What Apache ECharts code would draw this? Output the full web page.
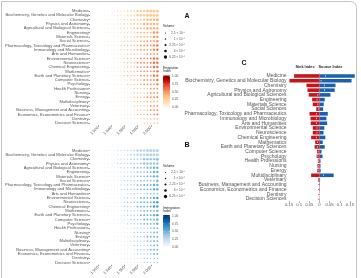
<!DOCTYPE html>
<html><head><meta charset="utf-8">
<script src="https://cdn.jsdelivr.net/npm/echarts@6/dist/echarts.min.js"></script>
<style>html,body{margin:0;padding:0;background:#fff}#c{width:361px;height:278px}</style>
</head><body><div id="c"></div>
<script>
// ---------- DATA ----------
const categories = [
  'Medicine','Biochemistry, Genetics and Molecular Biology','Chemistry','Physics and Astronomy',
  'Agricultural and Biological Sciences','Engineering','Materials Science','Social Sciences',
  'Pharmacology, Toxicology and Pharmaceutics','Immunology and Microbiology','Arts and Humanities',
  'Environmental Science','Neuroscience','Chemical Engineering','Mathematics',
  'Earth and Planetary Sciences','Computer Science','Psychology','Health Professions','Nursing',
  'Energy','Multidisciplinary','Veterinary','Business, Management and Accounting',
  'Economics, Econometrics and Finance','Dentistry','Decision Sciences'
];
const periods = [1910,1915,1920,1925,1930,1935,1940,1945,1950,1955,1960,1965,1970,1975,1980,1985,1990,1995,2000,2005,2010];
const yearTicks = [1920,1940,1960,1980,2000];

// volume level per category and period (0 = none, 1..5 = legend sizes)
const volumeLevels = [
  '000 111 112 223 334 445 555','000 011 112 223 334 445 555','001 111 112 222 333 344 445',
  '001 111 112 222 333 344 444','000 111 111 222 233 334 444','000 011 111 222 223 333 344',
  '000 001 111 122 223 333 344','000 111 111 122 222 333 334','000 111 111 222 223 333 344',
  '000 011 111 222 223 333 344','011 111 111 112 222 223 333','000 001 111 122 222 333 344',
  '000 001 111 122 223 333 344','000 011 111 122 223 333 344','011 111 111 122 222 333 334',
  '000 111 111 122 222 333 344','000 000 011 111 222 233 334','000 011 111 112 222 333 334',
  '000 000 111 111 122 222 333','000 000 011 111 122 222 333','000 000 111 111 122 223 333',
  '011 111 111 111 222 223 333','000 000 111 111 122 222 333','000 000 111 111 112 222 333',
  '000 000 011 111 112 222 233','000 000 001 111 111 122 222','000 000 000 111 111 122 222'
];
// emigration index per cell, tenths (0..9)
const emigrationTenths = [
  '000 111 222 222 223 333 333','000 111 222 222 223 333 333','001 112 222 233 333 334 444',
  '001 112 222 233 333 344 444','000 112 222 333 334 444 444','000 011 222 333 334 444 455',
  '000 001 122 233 344 444 455','000 112 223 333 444 445 555','000 112 223 334 444 555 556',
  '000 011 223 334 444 555 556','011 122 233 334 444 455 555','000 001 123 334 445 555 666',
  '000 001 122 334 445 555 666','000 011 223 334 445 556 666','011 122 233 344 445 555 566',
  '000 112 223 334 444 555 566','000 000 012 233 444 455 556','000 011 223 334 444 455 555',
  '000 000 112 233 344 444 555','000 000 012 233 344 445 555','000 000 112 233 444 455 556',
  '011 122 223 333 344 444 444','000 000 112 233 344 444 555','000 000 112 233 344 445 555',
  '000 000 012 233 344 445 556','000 000 001 223 334 444 555','000 000 000 122 333 444 455'
];
// immigration index per cell, tenths (0..9)
const immigrationTenths = [
  '000 111 222 222 233 333 333','000 111 222 222 333 333 333','001 112 222 333 333 344 444',
  '001 112 223 333 333 444 444','000 112 223 333 344 444 455','000 011 223 333 444 445 555',
  '000 001 122 333 444 445 555','000 111 222 333 344 444 445','000 112 223 334 444 455 555',
  '000 011 223 334 444 555 555','011 112 223 333 344 444 444','000 001 123 334 444 555 556',
  '000 001 122 334 444 555 556','000 011 223 344 445 555 666','011 112 223 334 444 455 555',
  '000 112 223 334 444 555 556','000 000 012 233 444 455 555','000 011 223 334 444 455 555',
  '000 000 112 233 344 444 455','000 000 012 233 344 444 455','000 000 112 233 444 455 555',
  '011 112 223 333 344 444 455','000 000 112 233 344 444 455','000 000 112 233 344 444 555',
  '000 000 012 233 344 444 555','000 000 001 223 334 444 455','000 000 000 122 333 444 445'
];

const sinkIndex = [-0.125,-0.148,-0.064,-0.059,-0.053,-0.036,-0.033,-0.016,-0.049,-0.044,-0.043,-0.033,-0.033,-0.041,-0.021,-0.024,-0.012,-0.014,-0.008,-0.010,-0.011,-0.041,-0.006,-0.001,-0.001,0,0];
const sourceIndex = [0.174,0.158,0.079,0.075,0.054,0.026,0.021,0.018,0.041,0.034,0.038,0.024,0.020,0.029,0.016,0.026,0.010,0.015,0.005,0.005,0.006,0.070,0.003,0.001,0.001,0,0];
const markerIndex = [0.030,0.008,0.024,0.025,-0.008,-0.012,-0.008,-0.004,-0.015,-0.015,-0.015,-0.012,-0.012,-0.015,-0.010,-0.010,-0.006,-0.008,-0.005,-0.006,-0.006,0.020,-0.002,null,null,null,null];
const barTicks = [-0.15,-0.1,-0.05,0,0.05,0.1,0.15];

const volumeLegend = ['2.5 × 10⁻⁵','1 × 10⁻⁴','2.25 × 10⁻⁴','4 × 10⁻⁴','6.25 × 10⁻⁴'];
const indexLegend = ['1.00','0.75','0.50','0.25','0.00'];

// ---------- STYLE ----------
const FONT = '"Liberation Sans", Arial, sans-serif';
const TXT = '#555';
const dotSize = [0, 0.9, 1.3, 1.8, 2.4, 3.0, 3.5];
const legendDot = [1.0, 1.5, 2.1, 2.7, 3.3];
const reds = ['#fff7ec','#fee8c8','#fdd49e','#fdbb84','#fc8d59','#ef6548','#d7301f','#b30000','#7f0000'];
const blues = ['#f7fbff','#deebf7','#c6dbef','#9ecae1','#6baed6','#4292c6','#2171b5','#08519c','#08306b'];

function parse(s){ return s.replace(/ /g,'').split('').map(Number); }
function dots(tenths){
  const out = [];
  categories.forEach((c,i)=>{
    const vol = parse(volumeLevels[i]), idx = parse(tenths[i]);
    periods.forEach((p,j)=>{ if (vol[j] > 0) out.push([p, c, vol[j], idx[j]/10]); });
  });
  return out;
}

function dotGrid(top){ return {left:90, top:top, width:70, height:116.4}; }
function dotX(gi){
  return {gridIndex:gi, type:'value', min:1908, max:2014, splitLine:{show:false},
    axisLine:{show:false},
    axisTick:{show:true, length:1.5, customValues:yearTicks, lineStyle:{color:'#333', width:0.5}},
    axisLabel:{customValues:yearTicks, rotate:45, fontSize:4, margin:2, color:TXT, fontFamily:FONT}};
}
function catY(gi, fs){
  return {gridIndex:gi, type:'category', data:categories, inverse:true,
    axisLine:{show:false},
    axisTick:{show:true, length:1.5, alignWithLabel:true, lineStyle:{color:'#333', width:0.5}},
    axisLabel:{fontSize:fs, margin:1.5, color:TXT, fontFamily:FONT, interval:0},
    splitLine:{show:false}};
}

function legend(dy, title, stops){
  const els = [];
  els.push({type:'text', left:163, top:24.8+dy, style:{text:'Volume', fontSize:3.4, fill:'#222', fontFamily:FONT}});
  volumeLegend.forEach((t,k)=>{
    const y = 33 + k*6 + dy;
    els.push({type:'circle', shape:{cx:165.5, cy:y, r:legendDot[k]/2}, style:{fill:'#111'}});
    els.push({type:'text', x:185, y:y, style:{text:t, fontSize:3.2, fill:TXT, align:'right', verticalAlign:'middle', fontFamily:FONT}});
  });
  els.push({type:'text', left:163, top:66.5+dy, style:{text:title+'\nIndex', fontSize:3.2, lineHeight:3.4, fill:'#222', fontFamily:FONT}});
  els.push({type:'rect', shape:{x:163, y:75.5+dy, width:7, height:32},
    style:{fill:{type:'linear', x:0, y:0, x2:0, y2:1,
      colorStops: stops.slice().reverse().map((c,i,a)=>({offset:i/(a.length-1), color:c}))}}});
  indexLegend.forEach((t,k)=>{
    const y = 76.5 + k*7.7 + dy;
    els.push({type:'line', shape:{x1:163, y1:y, x2:164.2, y2:y}, style:{stroke:'#fff', lineWidth:0.4}});
    els.push({type:'line', shape:{x1:168.8, y1:y, x2:170, y2:y}, style:{stroke:'#fff', lineWidth:0.4}});
    els.push({type:'text', x:172, y:y, style:{text:t, fontSize:3.2, fill:TXT, verticalAlign:'middle', fontFamily:FONT}});
  });
  return els;
}

const chart = echarts.init(document.getElementById('c'), null, {renderer:'canvas'});
const graphics = [
  {type:'rect', shape:{x:1.5, y:1.5, width:355, height:290, r:[0,6,0,0]}, style:{fill:'none', stroke:'#c4c4c4', lineWidth:1}},
  {type:'text', x:187, y:16, style:{text:'A', fontSize:7, fontWeight:'bold', fill:'#111', align:'center', verticalAlign:'middle', fontFamily:FONT}},
  {type:'text', x:187, y:145, style:{text:'B', fontSize:7, fontWeight:'bold', fill:'#111', align:'center', verticalAlign:'middle', fontFamily:FONT}},
  {type:'text', x:244, y:63, style:{text:'C', fontSize:7, fontWeight:'bold', fill:'#111', align:'center', verticalAlign:'middle', fontFamily:FONT}},
  {type:'text', x:305, y:66.7, style:{text:'Sink Index', fontSize:3.8, fontWeight:'bold', fill:'#222', align:'center', verticalAlign:'middle', fontFamily:FONT}},
  {type:'text', x:330.5, y:66.7, style:{text:'Source Index', fontSize:3.8, fontWeight:'bold', fill:'#222', align:'center', verticalAlign:'middle', fontFamily:FONT}},
  ...legend(0, 'Emigration', reds),
  ...legend(139.5, 'Immigration', blues)
];

chart.setOption({
  animation:false,
  backgroundColor:'#fff',
  textStyle:{fontFamily:FONT},
  grid:[dotGrid(8.85), dotGrid(148.35), {left:288, top:73.6, width:67, height:127.7}],
  xAxis:[dotX(0), dotX(1), {
    gridIndex:2, type:'value', min:-0.155, max:0.175, splitLine:{show:false}, axisLine:{show:false},
    axisTick:{show:true, length:1.5, customValues:barTicks, lineStyle:{color:'#333', width:0.5}},
    axisLabel:{customValues:barTicks, fontSize:4.2, margin:2, color:TXT, fontFamily:FONT,
      formatter:v=>String(Math.abs(Math.round(v*100)/100))}
  }],
  yAxis:[catY(0,4.1), catY(1,4.1), catY(2,5.0)],
  visualMap:[
    {type:'continuous', show:false, seriesIndex:0, dimension:3, min:0, max:1, inRange:{color:reds}},
    {type:'continuous', show:false, seriesIndex:1, dimension:3, min:0, max:1, inRange:{color:blues}}
  ],
  graphic:graphics,
  series:[
    {type:'scatter', xAxisIndex:0, yAxisIndex:0, data:dots(emigrationTenths), symbol:'circle',
      symbolSize:d=>dotSize[d[2]], itemStyle:{opacity:1}},
    {type:'scatter', xAxisIndex:1, yAxisIndex:1, data:dots(immigrationTenths), symbol:'circle',
      symbolSize:d=>dotSize[d[2]], itemStyle:{opacity:1}},
    {type:'line', xAxisIndex:2, yAxisIndex:2, data:[], z:1,
      markLine:{silent:true, symbol:'none', label:{show:false},
        lineStyle:{type:[1.2,0.8], color:'#d8505a', width:0.6}, data:[{xAxis:0}]}},
    {type:'bar', xAxisIndex:2, yAxisIndex:2, data:sinkIndex, barWidth:'76%', barGap:'-100%', z:3,
      itemStyle:{color:'#c4161c'}},
    {type:'bar', xAxisIndex:2, yAxisIndex:2, data:sourceIndex, barWidth:'76%', barGap:'-100%', z:3,
      itemStyle:{color:'#1c60ad'}},
    {type:'scatter', xAxisIndex:2, yAxisIndex:2, z:4, symbol:'rect', symbolSize:[0.8,1.6],
      data:markerIndex.map((v,i)=>v===null?null:[v, categories[i]]).filter(Boolean),
      itemStyle:{color:'#fff'}}
  ]
});
</script></body></html>
